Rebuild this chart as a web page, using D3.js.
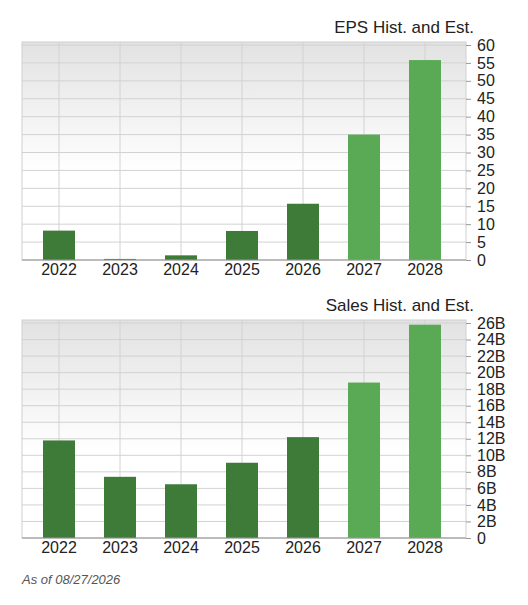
<!DOCTYPE html>
<html><head><meta charset="utf-8">
<script src="https://cdn.jsdelivr.net/npm/d3@7"></script>
<style>body{margin:0;background:#fff;font-family:"Liberation Sans",Arial,sans-serif;}</style>
</head><body>
<script>
// categories and values
var years = ["2022","2023","2024","2025","2026","2027","2028"];
var estimated = [false,false,false,false,false,true,true];
var eps = [8.2, 0.3, 1.3, 8.1, 15.7, 35, 55.8];
var sales = [11.8, 7.4, 6.5, 9.1, 12.2, 18.8, 25.8];
var epsTicks = [0,5,10,15,20,25,30,35,40,45,50,55,60];
var salesTicks = [0,2,4,6,8,10,12,14,16,18,20,22,24,26];

var svg = d3.select("body").append("svg").attr("width",528).attr("height",605);
var defs = svg.append("defs");
var grad = defs.append("linearGradient").attr("id","bg").attr("x1",0).attr("y1",0).attr("x2",0).attr("y2",1);
grad.append("stop").attr("offset","0%").attr("stop-color","#e2e2e2");
grad.append("stop").attr("offset","60%").attr("stop-color","#ffffff");

var x = d3.scalePoint().domain(years).range([59,425]);

function drawChart(top, bottom, title, values, ticks, fmt){
    var y = d3.scaleLinear().domain([0, ticks[ticks.length-1]]).range([bottom, top+3]);
    var g = svg.append("g");
    g.append("rect").attr("x",22).attr("y",top).attr("width",444).attr("height",bottom-top)
        .attr("fill","url(#bg)").attr("stroke","#d0d0d0");
    g.selectAll(".hg").data(ticks).enter().append("line")
        .attr("x1",22).attr("x2",466).attr("y1",function(d){return y(d);}).attr("y2",function(d){return y(d);})
        .attr("stroke","#d2d2d2");
    g.selectAll(".vg").data(years).enter().append("line")
        .attr("x1",function(d){return x(d);}).attr("x2",function(d){return x(d);})
        .attr("y1",top).attr("y2",bottom).attr("stroke","#d2d2d2");
    g.selectAll(".bar").data(values).enter().append("rect")
        .attr("x",function(d,i){return x(years[i])-16;}).attr("width",32)
        .attr("y",function(d){return y(d);}).attr("height",function(d){return bottom-y(d);})
        .attr("fill",function(d,i){return estimated[i] ? "#5aaa55" : "#3e7b39";});
    g.append("line").attr("x1",22).attr("x2",466).attr("y1",bottom).attr("y2",bottom).attr("stroke","#999");
    var ax = d3.axisRight(y).tickValues(ticks).tickSize(5).tickPadding(6).tickFormat(fmt);
    var a = g.append("g").attr("transform","translate(466,0)").call(ax);
    a.select(".domain").remove();
    a.selectAll("line").attr("stroke","#999");
    a.selectAll("text").attr("font-size",16).attr("fill","#222").attr("font-family","Liberation Sans, Arial");
    g.selectAll(".xl").data(years).enter().append("text")
        .attr("x",function(d){return x(d);}).attr("y",bottom+15).attr("text-anchor","middle")
        .attr("font-size",16).attr("fill","#222").text(function(d){return d;});
    g.append("text").attr("x",474).attr("y",top-9).attr("text-anchor","end")
        .attr("font-size",17).attr("fill","#222").text(title);
}

drawChart(42, 260, "EPS Hist. and Est.", eps, epsTicks, function(d){return d;});
drawChart(320, 538, "Sales Hist. and Est.", sales, salesTicks, function(d){return d===0 ? "0" : d+"B";});

svg.append("text").attr("x",22).attr("y",584).attr("font-size",13).attr("font-style","italic")
    .attr("fill","#555").text("As of 08/27/2026");
</script>
</body></html>
